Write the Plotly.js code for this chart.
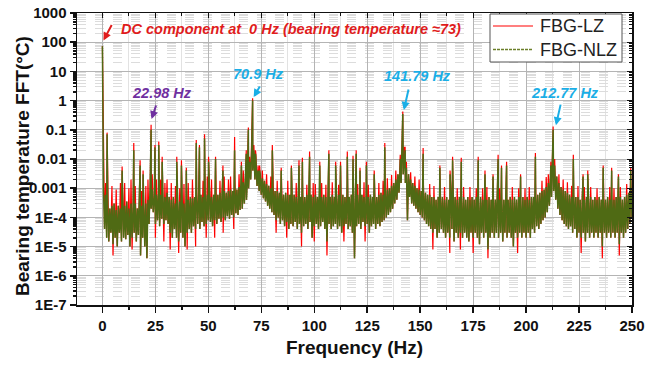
<!DOCTYPE html>
<html><head><meta charset="utf-8">
<script src="https://cdn.plot.ly/plotly-3.0.1.min.js"></script>
<style>html,body{margin:0;padding:0;background:#fff}#chart{width:647px;height:366px}</style>
</head><body><div id="chart"></div>
<script>
// FFT bins of the noise band: first bin at 0.5 Hz, one value every 0.5 Hz up to 250 Hz
const bandStart = 0.5, bandStep = 0.5;

// FBG-NLZ (olive) noise band
const nlzBand = [
 9e-4,4e-5,6e-4,2e-5,3e-4,1.5e-5,2e-4,3e-5,2.5e-4,1.2e-5,3e-4,2e-5,1.8e-4,1e-5,2.5e-4,3e-5,2e-4,1.5e-5,3e-4,2e-5,
 2.5e-4,1.8e-5,3.5e-4,2.5e-5,2e-4,1e-5,3e-4,2e-5,2.5e-4,3e-5,3e-4,1.5e-5,2e-4,2.5e-5,3e-4,5e-6,2.5e-4,2e-5,3e-4,1e-5,
 3e-4,4e-6,4e-4,6e-5,8e-4,2e-4,9e-4,1.5e-4,5e-4,6e-5,6e-4,8e-5,7e-4,5e-5,6e-4,9e-5,8e-4,6e-5,5e-4,8e-5,
 7e-4,6e-5,5e-4,3e-5,4e-4,2e-5,5e-4,4e-5,3e-4,2e-5,4e-4,1.5e-5,3.5e-4,3e-5,4e-4,2e-5,3e-4,1e-5,4e-4,3e-5,
 4e-4,4e-5,5e-4,3e-5,4.5e-4,5e-5,5e-4,4e-5,6e-4,6e-5,5e-4,4e-5,6e-4,7e-5,5e-4,5e-5,7e-4,6e-5,6e-4,8e-5,
 6e-4,7e-5,5e-4,5e-5,6e-4,8e-5,7e-4,6e-5,6e-4,9e-5,7e-4,7e-5,6e-4,1e-4,8e-4,8e-5,7e-4,1.1e-4,8e-4,9e-5,
 9e-4,1.2e-4,8e-4,1e-4,1e-3,1.4e-4,9e-4,1.2e-4,1.1e-3,1.8e-4,1.3e-3,2e-4,1.6e-3,3e-4,2e-3,4e-4,3e-3,1e-3,8e-3,2e-3,
 2.5e-2,4e-3,2e-2,2e-3,8e-3,1.2e-3,4e-3,8e-4,3e-3,6e-4,2.2e-3,4.5e-4,1.8e-3,3.5e-4,1.4e-3,2.5e-4,1.2e-3,2e-4,1e-3,1.5e-4,
 9e-4,1.2e-4,8e-4,8e-5,8e-4,1e-4,7e-4,6e-5,7e-4,8e-5,6e-4,5e-5,7e-4,7e-5,6e-4,4e-5,6e-4,6e-5,7e-4,5e-5,
 6e-4,7e-5,5e-4,4e-5,6e-4,6e-5,5e-4,3e-5,6e-4,5e-5,5e-4,6e-5,6e-4,4e-5,5e-4,7e-5,6e-4,2e-5,5e-4,5e-5,
 6e-4,6e-5,5e-4,4e-5,6e-4,5e-5,5e-4,7e-5,6e-4,4e-5,5e-4,1.5e-5,6e-4,6e-5,5e-4,4e-5,6e-4,5e-5,5e-4,6e-5,
 5e-4,4e-5,6e-4,5e-5,5e-4,3e-5,6e-4,5e-5,5e-4,6e-5,6e-4,4e-5,5e-4,5e-5,6e-4,3e-5,5e-4,4e-6,6e-4,5e-5,
 6e-4,6e-5,5e-4,4e-5,6e-4,7e-5,5e-4,5e-5,6e-4,6e-5,5e-4,3e-5,6e-4,5e-5,5e-4,6e-5,6e-4,4e-5,5e-4,6e-5,
 6e-4,5e-5,7e-4,7e-5,6e-4,8e-5,8e-4,1e-4,9e-4,1.2e-4,1e-3,1.5e-4,1.2e-3,2e-4,1.5e-3,3e-4,2e-3,4e-4,3e-3,7e-4,
 5e-3,1.5e-3,2e-2,3e-3,1.5e-2,1.5e-3,5e-3,8e-5,3e-3,5e-4,2e-3,3e-4,1.5e-3,2.5e-4,1.2e-3,2e-4,1e-3,1.5e-4,9e-4,1.2e-4,
 8e-4,1e-4,7e-4,8e-5,7e-4,6e-5,6e-4,5e-5,6e-4,4e-5,5e-4,3e-5,5e-4,4e-5,4e-4,2e-5,5e-4,3e-5,4e-4,4e-5,
 5e-4,3e-5,4e-4,2e-5,5e-4,3e-5,4e-4,2e-5,5e-4,4e-5,4e-4,1.5e-5,5e-4,3e-5,4e-4,2e-5,5e-4,3e-5,4e-4,2e-5,
 5e-4,3e-5,4e-4,2e-5,5e-4,1.5e-5,4e-4,3e-5,5e-4,2e-5,4e-4,3e-5,5e-4,2e-5,4e-4,1.2e-5,5e-4,3e-5,4e-4,2e-5,
 5e-4,3e-5,4e-4,8e-6,5e-4,2e-5,4e-4,3e-5,5e-4,2e-5,4e-4,3e-5,5e-4,2e-5,4e-4,3e-5,5e-4,1.5e-5,4e-4,3e-5,
 5e-4,2e-5,4e-4,3e-5,5e-4,2e-5,4e-4,1e-5,5e-4,3e-5,4e-4,2e-5,5e-4,3e-5,4e-4,2e-5,5e-4,3e-5,4e-4,2e-5,
 5e-4,3e-5,4e-4,2e-5,5e-4,4e-5,5e-4,3e-5,6e-4,5e-5,6e-4,4e-5,7e-4,6e-5,8e-4,8e-5,9e-4,1e-4,1.1e-3,1.5e-4,
 1.5e-3,2.5e-4,3e-3,5e-4,1e-2,8e-4,6e-3,4e-4,2.5e-3,2e-4,1.5e-3,1.2e-4,1.1e-3,8e-5,9e-4,6e-5,8e-4,5e-5,7e-4,4e-5,
 6e-4,5e-5,5e-4,3e-5,6e-4,4e-5,5e-4,2e-5,5e-4,3e-5,4e-4,2e-5,5e-4,3e-5,4e-4,1.5e-5,5e-4,3e-5,4e-4,2e-5,
 5e-4,3e-5,4e-4,2e-5,5e-4,3e-5,4e-4,2e-5,5e-4,3e-5,4e-4,1e-5,5e-4,3e-5,4e-4,2e-5,5e-4,3e-5,4e-4,2e-5,
 5e-4,3e-5,4e-4,2e-5,5e-4,3e-5,4e-4,1.2e-5,5e-4,3e-5,4e-4,2e-5,5e-4,3e-5,6e-4,4e-5,7e-4,6e-5,9e-4,1e-4
];

// FBG-LZ (red) noise band
const lzBand = [
 2e-3,4e-5,1.5e-3,2e-5,1e-3,1.5e-5,2e-4,3e-5,1.2e-3,5e-6,3e-4,2e-5,9e-4,1e-5,2.5e-4,3e-5,1.5e-3,1.5e-5,1e-3,2e-5,
 1.5e-3,1.8e-5,3.5e-4,2.5e-5,1e-3,1e-5,2e-3,8e-6,2.5e-4,3e-5,1.2e-3,1.5e-5,2e-4,2.5e-5,1.8e-3,5e-6,8e-4,2e-5,3e-4,1e-5,
 1.2e-3,4e-6,2e-3,6e-5,8e-4,2e-4,3e-3,1.5e-4,5e-4,2e-5,2e-3,8e-5,7e-4,5e-5,2e-3,9e-5,8e-4,1.5e-5,1.5e-3,8e-5,
 2e-3,6e-5,5e-4,8e-6,1.5e-3,2e-5,5e-4,4e-5,1.2e-3,2e-5,4e-4,6e-6,1e-3,3e-5,4e-4,2e-5,1.4e-3,1e-5,4e-4,8e-6,
 1.5e-3,4e-5,5e-4,3e-5,2e-3,5e-5,5e-4,1e-5,6e-4,6e-5,2e-3,4e-5,6e-4,7e-5,1.8e-3,5e-5,7e-4,2e-5,2.5e-3,8e-5,
 6e-4,7e-5,2e-3,5e-5,6e-4,2e-5,2.5e-3,6e-5,6e-4,9e-5,1.8e-3,7e-5,6e-4,3e-5,2.5e-3,8e-5,7e-4,1.1e-4,2e-3,9e-5,
 2.5e-3,1.2e-4,8e-4,4e-5,3e-3,1.4e-4,9e-4,1.2e-4,3e-3,1.8e-4,1.3e-3,2e-4,4e-3,3e-4,2e-3,4e-4,6e-3,1e-3,1.2e-2,2e-3,
 3.5e-2,4e-3,3e-2,2e-3,1.2e-2,1.2e-3,6e-3,8e-4,3e-3,6e-4,4e-3,4.5e-4,1.8e-3,3.5e-4,3e-3,2.5e-4,1.2e-3,2e-4,2.5e-3,1.5e-4,
 2e-3,1.2e-4,8e-4,3e-5,1.8e-3,1e-4,7e-4,6e-5,1.6e-3,8e-5,6e-4,5e-5,7e-4,2e-5,1.8e-3,4e-5,6e-4,6e-5,1.5e-3,5e-5,
 6e-4,7e-5,1.5e-3,4e-5,6e-4,6e-5,5e-4,1e-5,1.6e-3,5e-5,5e-4,6e-5,1.3e-3,4e-5,5e-4,7e-5,6e-4,2e-5,1.5e-3,1.5e-5,
 1.4e-3,6e-5,5e-4,4e-5,6e-4,5e-5,1.5e-3,7e-5,6e-4,4e-5,1.3e-3,5e-6,6e-4,6e-5,5e-4,4e-5,1.6e-3,5e-5,5e-4,6e-5,
 5e-4,4e-5,1.3e-3,5e-5,1.5e-3,3e-5,6e-4,1.5e-5,5e-4,6e-5,1.4e-3,4e-5,5e-4,5e-5,6e-4,3e-5,1.5e-3,4e-6,6e-4,5e-5,
 1.4e-3,6e-5,5e-4,4e-5,6e-4,7e-5,1.6e-3,1.5e-5,6e-4,6e-5,1.3e-3,3e-5,6e-4,5e-5,5e-4,6e-5,1.4e-3,4e-5,5e-4,6e-5,
 1.5e-3,5e-5,7e-4,7e-5,1.8e-3,8e-5,8e-4,1e-4,2.2e-3,1.2e-4,1e-3,1.5e-4,2.8e-3,2e-4,1.5e-3,3e-4,4e-3,4e-4,3e-3,7e-4,
 9e-3,1.5e-3,3e-2,3e-3,2.5e-2,1.5e-3,8e-3,8e-5,3e-3,5e-4,3.5e-3,3e-4,1.5e-3,2.5e-4,2.5e-3,2e-4,1e-3,1.5e-4,2e-3,1.2e-4,
 8e-4,1e-4,1.6e-3,8e-5,7e-4,6e-5,6e-4,5e-5,1.4e-3,4e-5,5e-4,8e-6,1.2e-3,4e-5,4e-4,2e-5,5e-4,3e-5,1.1e-3,4e-5,
 5e-4,3e-5,1.1e-3,2e-5,5e-4,3e-5,4e-4,6e-6,1e-3,4e-5,4e-4,1.5e-5,5e-4,3e-5,1e-3,2e-5,5e-4,8e-6,4e-4,2e-5,
 1.1e-3,3e-5,4e-4,2e-5,5e-4,1.5e-5,1.1e-3,3e-5,5e-4,6e-6,4e-4,3e-5,1e-3,2e-5,4e-4,1.2e-5,5e-4,3e-5,1e-3,2e-5,
 5e-4,3e-5,1.1e-3,4e-6,5e-4,2e-5,4e-4,3e-5,1.2e-3,2e-5,4e-4,3e-5,5e-4,2e-5,1e-3,3e-5,5e-4,1.5e-5,4e-4,3e-5,
 1.1e-3,2e-5,4e-4,3e-5,5e-4,2e-5,1.1e-3,1e-5,5e-4,3e-5,4e-4,6e-6,1e-3,3e-5,4e-4,2e-5,5e-4,3e-5,1e-3,2e-5,
 5e-4,3e-5,1.1e-3,2e-5,5e-4,4e-5,5e-4,3e-5,1.4e-3,5e-5,6e-4,4e-5,7e-4,6e-5,1.8e-3,8e-5,9e-4,1e-4,2.4e-3,1.5e-4,
 3e-3,2.5e-4,6e-3,5e-4,1.5e-2,8e-4,1e-2,4e-4,2.5e-3,2e-4,3e-3,1.2e-4,1.1e-3,8e-5,2e-3,6e-5,8e-4,5e-5,1.6e-3,4e-5,
 6e-4,5e-5,1.2e-3,3e-5,6e-4,4e-5,5e-4,2e-5,1.2e-3,3e-5,4e-4,6e-6,5e-4,3e-5,1.1e-3,1.5e-5,5e-4,3e-5,4e-4,2e-5,
 1.1e-3,3e-5,4e-4,2e-5,5e-4,3e-5,1e-3,2e-5,5e-4,3e-5,4e-4,4e-6,1.2e-3,3e-5,4e-4,2e-5,5e-4,3e-5,1.1e-3,2e-5,
 5e-4,3e-5,1e-3,2e-5,5e-4,3e-5,4e-4,5e-6,1.1e-3,3e-5,4e-4,2e-5,5e-4,3e-5,1.4e-3,4e-5,7e-4,6e-5,1.8e-3,1e-4
];

// Discrete spectral lines (Hz) and their heights for each sensor
const peakFreq = [0, 2.2, 9.3, 14.8, 17.8, 19.2, 22.98, 24.8, 26.6, 28.2, 35.1, 37.3, 39.6, 44.3, 45.8, 48.2, 50.1, 53.4, 56.9,
  62.4, 65.6, 67.9, 68.9, 70.9, 72.3, 74.2, 80.2, 84.4, 89.2, 92.8, 94.4, 97.8, 102.6, 106.9, 110.1, 112.4, 115.6, 118.3, 119.8,
  121.6, 124.6, 128.3, 133.3, 140.6, 141.79, 142.9, 151.4, 159.3, 164.1, 165.3, 169.4, 177.4, 180.6, 184.4, 186.8, 188.4, 190.8,
  197.4, 204.4, 211.7, 212.77, 222.3, 226.9, 229.1, 236.4, 240.4, 243.6, 249.4];
const lzPeak = [73, 0.08, 0.0055, 0.035, 0.009, 0.004, 0.15, 0.03, 0.04, 0.012, 0.012, 0.009, 0.005, 0.045, 0.03, 0.07, 0.012, 0.012, 0.006,
  0.057, 0.008, 0.02, 0.12, 1.2, 0.02, 0.006, 0.03, 0.005, 0.006, 0.009, 0.011, 0.018, 0.008, 0.02, 0.008, 0.008, 0.018, 0.013, 0.02,
  0.005, 0.008, 0.004, 0.035, 0.014, 0.42, 0.025, 0.024, 0.006, 0.004, 0.012, 0.011, 0.012, 0.004, 0.003, 0.014, 0.006, 0.008,
  0.003, 0.016, 0.008, 0.13, 0.014, 0.003, 0.004, 0.006, 0.005, 0.003, 0.005];
const nlzPeak = [73, 0.07, 0.004, 0.02, 0.006, 0.003, 0.1, 0.025, 0.03, 0.008, 0.008, 0.006, 0.004, 0.035, 0.025, 0.05, 0.008, 0.01, 0.004,
  0.02, 0.006, 0.015, 0.1, 1.0, 0.015, 0.004, 0.02, 0.004, 0.005, 0.006, 0.008, 0.012, 0.006, 0.015, 0.006, 0.006, 0.012, 0.01, 0.015,
  0.004, 0.006, 0.003, 0.025, 0.01, 0.35, 0.02, 0.015, 0.005, 0.003, 0.009, 0.008, 0.009, 0.003, 0.0025, 0.01, 0.005, 0.006,
  0.0025, 0.012, 0.006, 0.1, 0.01, 0.0025, 0.003, 0.005, 0.004, 0.0025, 0.004];

const seriesNames = ['FBG-LZ', 'FBG-NLZ'];
const xTicks = [0, 25, 50, 75, 100, 125, 150, 175, 200, 225, 250];
const yTickVals = [1e-7, 1e-6, 1e-5, 1e-4, 1e-3, 1e-2, 1e-1, 1, 10, 100, 1000];
const yTickText = ['1E-7', '1E-6', '1E-5', '1E-4', '0.001', '0.01', '0.1', '1', '10', '100', '1000'];

function buildSeries(band, peaks) {
  const pts = band.map((v, i) => [bandStart + i * bandStep, v]);
  peakFreq.forEach((f, i) => pts.push([f, peaks[i]]));
  pts.sort((a, b) => a[0] - b[0]);
  return { x: pts.map(p => p[0]), y: pts.map(p => p[1]) };
}
const lz = buildSeries(lzBand, lzPeak);
const nlz = buildSeries(nlzBand, nlzPeak);

const RED = '#ff0000', OLIVE = '#4f6a14';
const minorY = [];
for (let e = -7; e < 3; e++) for (let m = 2; m <= 9; m++) minorY.push(m * Math.pow(10, e));

const F = 'Liberation Sans, Arial, sans-serif';
const traces = [
  { x: lz.x, y: lz.y, type: 'scatter', mode: 'lines', name: seriesNames[0], line: { color: RED, width: 1.2 }, hoverinfo: 'skip' },
  { x: nlz.x, y: nlz.y, type: 'scatter', mode: 'lines', name: seriesNames[1], line: { color: OLIVE, width: 1.5 }, hoverinfo: 'skip' },
  { x: [null], y: [null], xaxis: 'x2', yaxis: 'y2', type: 'scatter', mode: 'lines', showlegend: false, hoverinfo: 'skip' }
];

// pixel -> paper helpers for the hand-placed legend box
const PL = 77, PW = 555, PT = 13, PH = 292;
const px = v => (v - PL) / PW, py = v => 1 - (v - PT) / PH;

const tickFont = { family: F, size: 15, color: '#111', weight: 'bold' };
const annFont = c => ({ family: F, size: 14.5, color: c, style: 'italic', weight: 'bold' });
const layout = {
  width: 647, height: 366,
  margin: { l: PL, r: 15, t: PT, b: 61 },
  paper_bgcolor: '#fff', plot_bgcolor: '#fff',
  showlegend: false,
  xaxis: {
    range: [-12, 250], tickmode: 'array', tickvals: xTicks, ticks: 'outside', ticklen: 6, tickwidth: 1.5, tickcolor: '#111',
    showline: true, linecolor: '#111', linewidth: 1.5, mirror: true, zeroline: false,
    showgrid: true, gridcolor: '#b4b4b4', gridwidth: 1,
    minor: { dtick: 12.5, tick0: 0, ticks: 'outside', ticklen: 3, tickcolor: '#111', showgrid: true, gridcolor: '#e2e2e2' },
    tickfont: tickFont,
    title: { text: 'Frequency (Hz)', font: { family: F, size: 19, color: '#111', weight: 'bold' }, standoff: 8 }
  },
  yaxis: {
    type: 'log', range: [-7, 3], tickmode: 'array', tickvals: yTickVals, ticktext: yTickText,
    ticks: 'outside', ticklen: 6, tickwidth: 1.5, tickcolor: '#111',
    showline: true, linecolor: '#111', linewidth: 1.5, mirror: true, zeroline: false,
    showgrid: true, gridcolor: '#b4b4b4', gridwidth: 1,
    minor: { tickmode: 'array', tickvals: minorY, ticks: 'outside', ticklen: 3, tickcolor: '#111', showgrid: true, gridcolor: '#dcdcdc', griddash: 'dash' },
    tickfont: tickFont
  },
  xaxis2: { overlaying: 'x', side: 'top', range: [-12, 250], tickmode: 'array', tickvals: xTicks, ticks: 'inside', ticklen: 5, tickcolor: '#111',
    showticklabels: false, showgrid: false, zeroline: false,
    minor: { dtick: 12.5, tick0: 0, ticks: 'inside', ticklen: 3, tickcolor: '#111', showgrid: false } },
  yaxis2: { overlaying: 'y', side: 'right', type: 'log', range: [-7, 3], tickmode: 'array', tickvals: yTickVals, ticks: 'inside', ticklen: 5, tickcolor: '#111',
    showticklabels: false, showgrid: false, zeroline: false,
    minor: { tickmode: 'array', tickvals: minorY, ticks: 'inside', ticklen: 3, tickcolor: '#111', showgrid: false } },
  shapes: [
    { type: 'rect', xref: 'paper', yref: 'paper', x0: px(490), x1: px(622), y0: py(62), y1: py(14), fillcolor: '#fff', line: { color: '#555', width: 1 } },
    { type: 'line', xref: 'paper', yref: 'paper', x0: px(493), x1: px(533), y0: py(26), y1: py(26), line: { color: RED, width: 1.2 } },
    { type: 'line', xref: 'paper', yref: 'paper', x0: px(493), x1: px(533), y0: py(49.5), y1: py(49.5), line: { color: '#6b7f2a', width: 1.5, dash: '3px,1px' } }
  ],
  annotations: [
    { xref: 'paper', yref: 'paper', x: px(538), y: py(26), xanchor: 'left', yanchor: 'middle', text: seriesNames[0], showarrow: false,
      font: { family: F, size: 18, color: '#222' } },
    { xref: 'paper', yref: 'paper', x: px(538), y: py(49.5), xanchor: 'left', yanchor: 'middle', text: seriesNames[1], showarrow: false,
      font: { family: F, size: 18, color: '#222' } },
    { xref: 'paper', yref: 'paper', x: px(22), y: py(166), xanchor: 'center', yanchor: 'middle', textangle: -90,
      text: 'Bearing temperature FFT(°C)', showarrow: false, font: { family: F, size: 19, color: '#111', weight: 'bold' } },
    { x: 7.6, y: 2.45, xref: 'x', yref: 'y', text: 'DC component at  0 Hz (bearing temperature ≈73)', showarrow: false, xanchor: 'left', font: annFont('#e01c1c') },
    { x: 0.5, y: 2.06, xref: 'x', yref: 'y', text: '', showarrow: true, ax: 9, ay: -17, arrowcolor: '#e01c1c', arrowwidth: 2, arrowhead: 2, arrowsize: 0.8 },
    { x: 28, y: 0.26, xref: 'x', yref: 'y', text: '22.98 Hz', showarrow: false, font: annFont('#7030a0') },
    { x: 23.2, y: -0.63, xref: 'x', yref: 'y', text: '', showarrow: true, ax: 5, ay: -15, arrowcolor: '#7030a0', arrowwidth: 2, arrowhead: 2, arrowsize: 0.8 },
    { x: 73.6, y: 0.91, xref: 'x', yref: 'y', text: '70.9 Hz', showarrow: false, font: annFont('#1aaee6') },
    { x: 71.4, y: 0.12, xref: 'x', yref: 'y', text: '', showarrow: true, ax: 7, ay: -12, arrowcolor: '#1aaee6', arrowwidth: 2, arrowhead: 2, arrowsize: 0.8 },
    { x: 148.9, y: 0.84, xref: 'x', yref: 'y', text: '141.79 Hz', showarrow: false, font: annFont('#1aaee6') },
    { x: 142.3, y: -0.32, xref: 'x', yref: 'y', text: '', showarrow: true, ax: 5, ay: -22, arrowcolor: '#1aaee6', arrowwidth: 2, arrowhead: 2, arrowsize: 0.8 },
    { x: 218.3, y: 0.27, xref: 'x', yref: 'y', text: '212.77 Hz', showarrow: false, font: annFont('#1aaee6') },
    { x: 214.1, y: -0.84, xref: 'x', yref: 'y', text: '', showarrow: true, ax: 5, ay: -22, arrowcolor: '#1aaee6', arrowwidth: 2, arrowhead: 2, arrowsize: 0.8 }
  ]
};

Plotly.newPlot('chart', traces, layout, { staticPlot: true, displayModeBar: false });
</script>
</body></html>
